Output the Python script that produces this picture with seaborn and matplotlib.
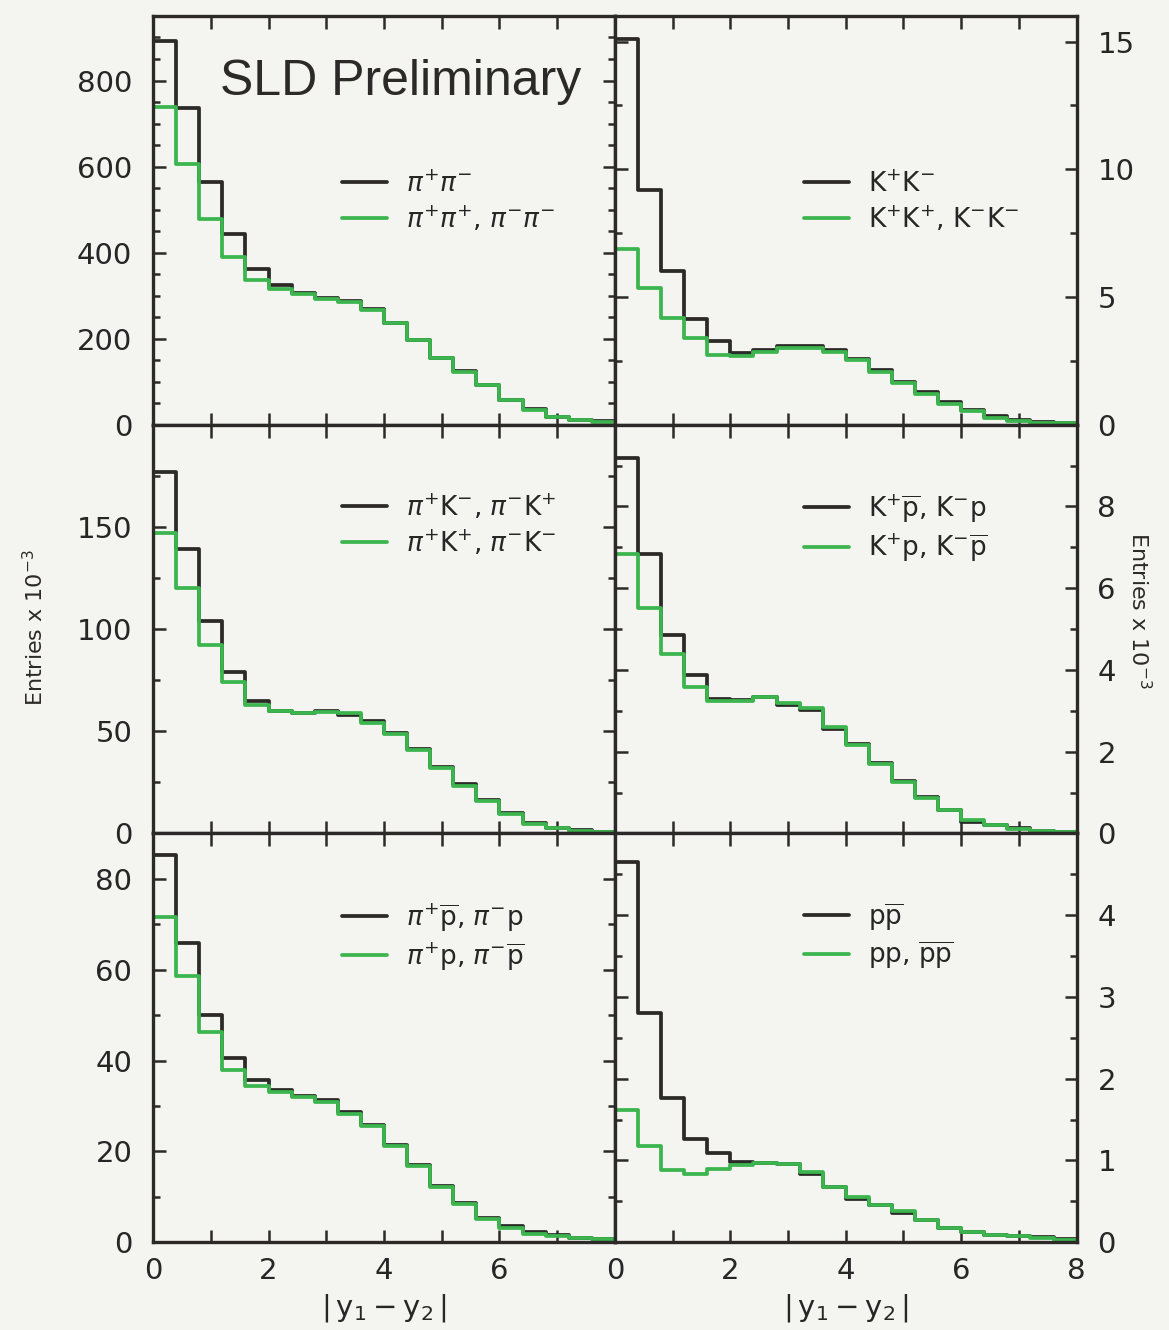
import numpy as np
import pandas as pd
import matplotlib
matplotlib.use("Agg")
import matplotlib.pyplot as plt
import seaborn as sns
from matplotlib.ticker import MultipleLocator, FixedLocator, FixedFormatter

# ---------------- data (20 bins of width 0.4 on |y1 - y2| in [0, 8]) ----------------
bin_edges = [0.0, 0.4, 0.8, 1.2, 1.6, 2.0, 2.4, 2.8, 3.2, 3.6, 4.0,
             4.4, 4.8, 5.2, 5.6, 6.0, 6.4, 6.8, 7.2, 7.6, 8.0]

# pi pi
pipi_opp = [892, 735, 564, 443, 363, 325, 307, 295, 288, 268, 237, 198, 155, 124, 93, 58, 36, 19, 12, 8]
pipi_same = [739, 605, 478, 389, 337, 315, 303, 293, 285, 267, 236, 197, 154, 123, 92, 57, 35, 18, 11, 7]
# K K
kk_opp = [15.1, 9.2, 6.0, 4.12, 3.27, 2.79, 2.92, 3.09, 3.09, 2.92, 2.57, 2.13, 1.68, 1.28, 0.89, 0.59, 0.33, 0.20, 0.10, 0.07]
kk_same = [6.87, 5.34, 4.16, 3.38, 2.72, 2.68, 2.85, 3.01, 3.01, 2.85, 2.53, 2.06, 1.64, 1.22, 0.82, 0.52, 0.26, 0.16, 0.08, 0.05]
# pi K
pik_opp = [177, 139, 104, 79, 65, 60, 59, 60, 58, 55, 49, 41.5, 32.6, 24, 16.5, 10, 5, 2.6, 1.5, 0.8]
pik_same = [147, 120, 92, 74, 63, 60, 59, 59.5, 59, 54, 48.5, 41, 32, 23.4, 16, 9.7, 4.8, 2.5, 1.3, 0.7]
# K p
kp_opp = [9.18, 6.84, 4.86, 3.88, 3.30, 3.26, 3.34, 3.14, 3.01, 2.56, 2.19, 1.72, 1.28, 0.90, 0.58, 0.27, 0.21, 0.13, 0.07, 0.04]
kp_same = [6.84, 5.52, 4.39, 3.59, 3.23, 3.23, 3.34, 3.20, 3.07, 2.60, 2.16, 1.70, 1.26, 0.87, 0.57, 0.34, 0.21, 0.12, 0.07, 0.03]
# pi p
pip_opp = [85.2, 65.9, 50, 40.5, 35.7, 33.5, 32.2, 31.3, 28.7, 25.8, 21.4, 17, 12.3, 8.7, 5.4, 3.5, 2.3, 1.5, 1.0, 0.8]
pip_same = [71.5, 58.7, 46.3, 38, 34.4, 33.1, 32, 30.9, 28.3, 25.5, 21.1, 16.7, 12.2, 8.5, 5.2, 3.2, 1.9, 1.3, 0.9, 0.7]
# p p
pp_opp = [4.65, 2.80, 1.77, 1.26, 1.09, 0.98, 0.97, 0.96, 0.83, 0.67, 0.53, 0.45, 0.36, 0.27, 0.18, 0.13, 0.09, 0.07, 0.06, 0.04]
pp_same = [1.62, 1.18, 0.88, 0.83, 0.90, 0.94, 0.97, 0.96, 0.86, 0.67, 0.55, 0.46, 0.38, 0.27, 0.17, 0.12, 0.09, 0.07, 0.05, 0.03]

labels_opp = [r"$\pi^{+}\pi^{-}$", r"$\mathrm{K}^{+}\mathrm{K}^{-}$",
              r"$\pi^{+}\mathrm{K}^{-}$, $\pi^{-}\mathrm{K}^{+}$",
              r"$\mathrm{K}^{+}\overline{\mathrm{p}}$, $\mathrm{K}^{-}\mathrm{p}$",
              r"$\pi^{+}\overline{\mathrm{p}}$, $\pi^{-}\mathrm{p}$",
              r"$\mathrm{p}\overline{\mathrm{p}}$"]
labels_same = [r"$\pi^{+}\pi^{+}$, $\pi^{-}\pi^{-}$", r"$\mathrm{K}^{+}\mathrm{K}^{+}$, $\mathrm{K}^{-}\mathrm{K}^{-}$",
               r"$\pi^{+}\mathrm{K}^{+}$, $\pi^{-}\mathrm{K}^{-}$",
               r"$\mathrm{K}^{+}\mathrm{p}$, $\mathrm{K}^{-}\overline{\mathrm{p}}$",
               r"$\pi^{+}\mathrm{p}$, $\pi^{-}\overline{\mathrm{p}}$",
               r"$\mathrm{pp}$, $\overline{\mathrm{p}}\overline{\mathrm{p}}$"]

ylims = [950, 16, 200, 10, 90, 5]
yticks = [[0, 200, 400, 600, 800], [0, 5, 10, 15], [0, 50, 100, 150],
          [0, 2, 4, 6, 8], [0, 20, 40, 60, 80], [0, 1, 2, 3, 4]]
yminor = [50, 2.5, 25, 1, 10, 0.5]
xtick_left = [0, 2, 4, 6]
xtick_right = [0, 2, 4, 6, 8]

# ---------------- style ----------------
sns.set_style("ticks")
plt.rcParams["font.family"] = ["DejaVu Sans"]
plt.rcParams["mathtext.fontset"] = "dejavusans"

BG = "#f4f4f0"
BLACK = "#2b2a28"
GREEN = "#3cb54e"

fig, axes = plt.subplots(3, 2, figsize=(11.69, 13.30), dpi=100)
fig.patch.set_facecolor(BG)
fig.subplots_adjust(left=0.131, right=0.921, top=0.988, bottom=0.066, wspace=0, hspace=0)

opp_all = [pipi_opp, kk_opp, pik_opp, kp_opp, pip_opp, pp_opp]
same_all = [pipi_same, kk_same, pik_same, kp_same, pip_same, pp_same]
edges = list(bin_edges)
centers = [(a + b) / 2 for a, b in zip(bin_edges[:-1], bin_edges[1:])]

for i, ax in enumerate(axes.flat):
    df_opp = pd.DataFrame({"x": centers, "w": opp_all[i]})
    df_same = pd.DataFrame({"x": centers, "w": same_all[i]})
    ax.set_facecolor(BG)
    sns.histplot(data=df_opp, x="x", weights="w", bins=edges,
                 element="step", fill=False, color=BLACK, lw=2.7, ax=ax,
                 label=labels_opp[i])
    sns.histplot(data=df_same, x="x", weights="w", bins=edges,
                 element="step", fill=False, color=GREEN, lw=2.7, ax=ax,
                 label=labels_same[i])
    ax.set_xlim(0, 8)
    ax.set_ylim(0, ylims[i])
    ax.yaxis.set_major_locator(FixedLocator(yticks[i]))
    ax.yaxis.set_minor_locator(MultipleLocator(yminor[i]))
    ax.set_xlabel("")
    ax.set_ylabel("")
    for sp in ax.spines.values():
        sp.set_linewidth(2.4)
        sp.set_color(BLACK)
    ax.tick_params(which="both", direction="in", top=True, bottom=True,
                   left=True, right=True, color=BLACK, width=1.8)
    ax.tick_params(which="major", length=9, labelsize=21)
    ax.tick_params(axis="y", which="major", pad=15)
    ax.tick_params(axis="x", which="major", pad=11)
    ax.tick_params(which="minor", length=5)
    col = i % 2
    row = i // 2
    if col == 1:
        ax.tick_params(axis="y", labelleft=False, labelright=True)
    ticks = xtick_left if col == 0 else xtick_right
    ax.xaxis.set_major_locator(FixedLocator(list(range(0, 9))))
    ax.xaxis.set_major_formatter(FixedFormatter([str(t) if t in ticks else "" for t in range(0, 9)]))
    if row < 2:
        ax.tick_params(axis="x", labelbottom=False)
    else:
        ax.set_xlabel(r"$\mathrm{|\,y_1 - y_2\,|}$", fontsize=21, labelpad=5)
    leg_top = 0.62 if row == 0 else 0.835
    ax.legend(loc="upper left", bbox_to_anchor=(0.41, leg_top), frameon=False,
              fontsize=19, handlelength=1.7, handletextpad=0.7, labelspacing=0.25,
              borderpad=0, borderaxespad=0)

axes[0, 0].text(0.145, 0.839, "SLD Preliminary", transform=axes[0, 0].transAxes,
                fontsize=36, color=BLACK, ha="left", va="center",
                family=["Liberation Sans", "DejaVu Sans"])

fig.text(0.03, 0.528, r"Entries x 10$^{-3}$", rotation=90, fontsize=16,
         ha="center", va="center", color=BLACK)
fig.text(0.975, 0.541, r"Entries x 10$^{-3}$", rotation=270, fontsize=16,
         ha="center", va="center", color=BLACK)

fig.savefig("out.png", dpi=100, facecolor=BG)
